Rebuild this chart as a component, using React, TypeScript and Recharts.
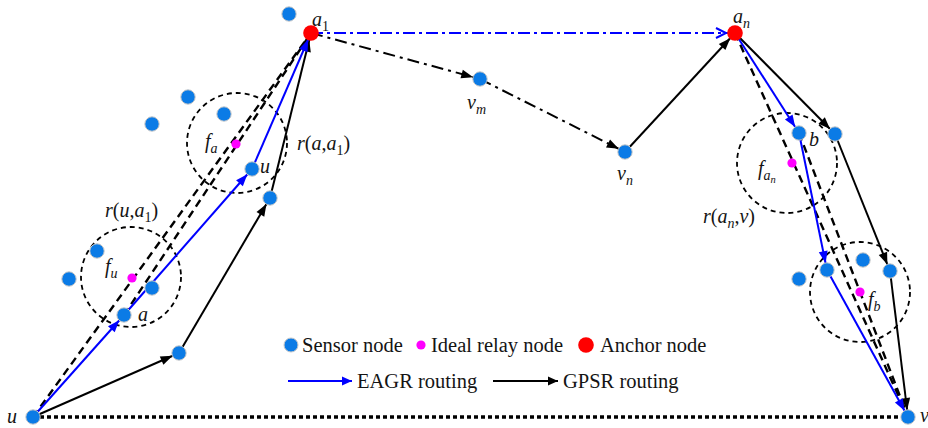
import React from 'react';
import { ScatterChart, Scatter, XAxis, YAxis, ReferenceDot, Legend } from 'recharts';

const W = 928;
const H = 428;

const sensorNodes = [
  { id: 'u', x: 33, y: 417 },
  { id: 'v', x: 908, y: 417 },
  { id: 'vm', x: 480, y: 79 },
  { id: 'vn', x: 625, y: 152 },
  { id: 's1', x: 289, y: 14 },
  { id: 's2', x: 188, y: 97 },
  { id: 's3', x: 224, y: 114 },
  { id: 's4', x: 152, y: 124 },
  { id: 'u2', x: 252, y: 169 },
  { id: 'g1', x: 270, y: 198 },
  { id: 's5', x: 97, y: 251 },
  { id: 's6', x: 69, y: 279 },
  { id: 's7', x: 152, y: 288 },
  { id: 'a', x: 124, y: 315 },
  { id: 'g0', x: 179, y: 353 },
  { id: 'b', x: 799, y: 133 },
  { id: 'g2', x: 835, y: 134 },
  { id: 'c', x: 827, y: 270 },
  { id: 's8', x: 863, y: 260 },
  { id: 'g3', x: 890, y: 271 },
  { id: 's9', x: 799, y: 279 },
];
const relayNodes = [
  { id: 'fa', x: 236, y: 144 },
  { id: 'fu', x: 132, y: 278 },
  { id: 'fan', x: 792, y: 163 },
  { id: 'fb', x: 860, y: 292 },
];
const anchorNodes = [
  { id: 'a1', x: 311, y: 33 },
  { id: 'an', x: 735, y: 33 },
];
const rangeCircles = [
  { x: 237, y: 143 },
  { x: 131, y: 277 },
  { x: 787, y: 163 },
  { x: 860, y: 292 },
];
const eagrEdges = [['u', 'a'], ['a', 'u2'], ['u2', 'a1'], ['an', 'b'], ['b', 'c'], ['c', 'v']];
const eagrAnchorEdges = [['a1', 'an']];
const gpsrEdges = [['u', 'g0'], ['g0', 'g1'], ['g1', 'a1'], ['vn', 'an'], ['an', 'g2'], ['g2', 'g3'], ['g3', 'v']];
const gpsrHoleEdges = [['a1', 'vm'], ['vm', 'vn']];
const distanceEdges = [['u', 'a1'], ['a', 'a1'], ['an', 'v'], ['b', 'v']];
const baselineEdges = [['u', 'v']];
const labels = [
  { x: 7, y: 423, t: 'u' },
  { x: 920, y: 422, t: 'v' },
  { x: 312, y: 26, t: 'a_1' },
  { x: 733, y: 23, t: 'a_n' },
  { x: 467, y: 109, t: 'v_m' },
  { x: 617, y: 180, t: 'v_n' },
  { x: 205, y: 148, t: 'f_a' },
  { x: 260, y: 173, t: 'u' },
  { x: 297, y: 150, t: 'r(a,a_1)' },
  { x: 105, y: 217, t: 'r(u,a_1)' },
  { x: 105, y: 273, t: 'f_u' },
  { x: 138, y: 321, t: 'a' },
  { x: 809, y: 146, t: 'b' },
  { x: 758, y: 175, t: 'f_{a_n}' },
  { x: 703, y: 223, t: 'r(a_n,v)' },
  { x: 868, y: 306, t: 'f_b' },
];
const legendNodes = ['Sensor node', 'Ideal relay node', 'Anchor node'];
const legendRoutes = ['EAGR routing', 'GPSR routing'];

const FONT = "'Liberation Serif', 'Times New Roman', 'DejaVu Serif', serif";
const SENSOR = '#0B7BE6';
const RELAY = '#FF00FF';
const ANCHOR = '#FF0000';
const BLUE = '#0000FF';
const INK = '#141414';

const allNodes = [...sensorNodes, ...relayNodes, ...anchorNodes];
const pos: Record<string, { x: number; y: number }> = Object.fromEntries(allNodes.map((n) => [n.id, n]));
const edgeData = (e: string[]) => e.map((id) => ({ x: pos[id].x, y: pos[id].y }));

function parseRich(s: string) {
  const segs: { t: string; lvl: number }[] = [];
  const walk = (str: string, lvl: number) => {
    let i = 0;
    while (i < str.length) {
      const ch = str[i];
      if (ch === '_') {
        if (str[i + 1] === '{') {
          let depth = 1;
          let j = i + 2;
          while (j < str.length && depth > 0) {
            if (str[j] === '{') depth++;
            else if (str[j] === '}') depth--;
            j++;
          }
          walk(str.slice(i + 2, j - 1), lvl + 1);
          i = j;
        } else {
          segs.push({ t: str[i + 1], lvl: lvl + 1 });
          i += 2;
        }
      } else {
        segs.push({ t: ch, lvl });
        i++;
      }
    }
  };
  walk(s, 0);
  return segs;
}

const sizes = [20, 14, 10.5];
const offs = [0, 5, 8];
function rich(s: string) {
  let prev = 0;
  return parseRich(s).map((sg, k) => {
    const dy = offs[sg.lvl] - offs[prev];
    prev = sg.lvl;
    const italic = /[a-z]/i.test(sg.t);
    return (
      <tspan key={k} dy={dy} style={{ fontSize: sizes[sg.lvl], fontStyle: italic ? 'italic' : 'normal', fontFamily: FONT }}>
        {sg.t}
      </tspan>
    );
  });
}

const Empty = () => <g />;
const SensorShape = (p: any) => <circle cx={p.cx} cy={p.cy} r={7.2} fill={SENSOR} stroke="#C8C8C8" strokeWidth={1} />;
const RelayShape = (p: any) => <circle cx={p.cx} cy={p.cy} r={4.6} fill={RELAY} />;
const AnchorShape = (p: any) => <circle cx={p.cx} cy={p.cy} r={7.8} fill={ANCHOR} />;
const LabelShape = (p: any) => (
  <text x={p.cx} y={p.cy} fill={INK} style={{ fontFamily: FONT }}>
    {rich(p.payload.t)}
  </text>
);

const Markers = () => (
  <svg width={0} height={0} style={{ position: 'absolute' }}>
    <defs>
      <marker id="arrBlue" viewBox="0 0 12 9" refX={19} refY={4.5} markerWidth={12} markerHeight={9} markerUnits="userSpaceOnUse" orient="auto" overflow="visible">
        <path d="M0,0 L12,4.5 L0,9 Z" fill={BLUE} />
      </marker>
      <marker id="arrBlack" viewBox="0 0 12 9" refX={19} refY={4.5} markerWidth={12} markerHeight={9} markerUnits="userSpaceOnUse" orient="auto" overflow="visible">
        <path d="M0,0 L12,4.5 L0,9 Z" fill="#000" />
      </marker>
      <marker id="arrOpenBlue" viewBox="0 0 12 12" refX={20} refY={6} markerWidth={12} markerHeight={12} markerUnits="userSpaceOnUse" orient="auto" overflow="visible">
        <path d="M1,1 L11,6 L1,11" fill="none" stroke={BLUE} strokeWidth={2} />
      </marker>
      <marker id="legBlue" viewBox="0 0 10 9" refX={10} refY={4.5} markerWidth={10} markerHeight={9} markerUnits="userSpaceOnUse" orient="auto" overflow="visible">
        <path d="M0,0 L10,4.5 L0,9 Z" fill={BLUE} />
      </marker>
      <marker id="legBlack" viewBox="0 0 10 9" refX={10} refY={4.5} markerWidth={10} markerHeight={9} markerUnits="userSpaceOnUse" orient="auto" overflow="visible">
        <path d="M0,0 L10,4.5 L0,9 Z" fill="#000" />
      </marker>
    </defs>
  </svg>
);

const legendTextStyle = { fontFamily: FONT, fontSize: 20.5 };

const LegendContent = () => (
  <svg width={440} height={64} style={{ overflow: 'visible' }}>
    <g fill={INK}>
      <circle cx={11} cy={15} r={7} fill={SENSOR} stroke="#C8C8C8" strokeWidth={1} />
      <text x={22} y={22} style={legendTextStyle}>{legendNodes[0]}</text>
      <circle cx={141} cy={15} r={4.6} fill={RELAY} />
      <text x={151} y={22} style={legendTextStyle}>{legendNodes[1]}</text>
      <circle cx={306} cy={15} r={7.8} fill={ANCHOR} />
      <text x={320} y={22} style={legendTextStyle}>{legendNodes[2]}</text>
      <line x1={8} y1={51} x2={72} y2={51} stroke={BLUE} strokeWidth={2} markerEnd="url(#legBlue)" />
      <text x={77} y={58} style={legendTextStyle}>{legendRoutes[0]}</text>
      <line x1={213} y1={51} x2={278} y2={51} stroke="#000" strokeWidth={2} markerEnd="url(#legBlack)" />
      <text x={283} y={58} style={legendTextStyle}>{legendRoutes[1]}</text>
    </g>
  </svg>
);

export default function App() {
  return (
    <div style={{ position: 'absolute', left: 0, top: 0, width: W, height: H, background: '#fff' }}>
      <Markers />
      <ScatterChart width={W} height={H} margin={{ top: 0, right: 0, bottom: 0, left: 0 }}>
        <XAxis type="number" dataKey="x" domain={[0, W]} hide allowDataOverflow />
        <YAxis type="number" dataKey="y" domain={[0, H]} reversed hide allowDataOverflow />
        <Legend
          layout="vertical"
          align="center"
          verticalAlign="middle"
          wrapperStyle={{ position: 'absolute', left: 280, top: 330, width: 440, height: 64 }}
          content={() => <LegendContent />}
        />
        {baselineEdges.map((e, i) => (
          <Scatter key={'bl' + i} data={edgeData(e)} shape={Empty} isAnimationActive={false}
            line={{ stroke: '#000', strokeWidth: 3.5, strokeDasharray: '4 3' }} />
        ))}
        {rangeCircles.map((c, i) => (
          <ReferenceDot key={'rc' + i} x={c.x} y={c.y} r={50} fill="none" stroke="#000"
            strokeWidth={1.8} strokeDasharray="5 4" ifOverflow="visible" />
        ))}
        {distanceEdges.map((e, i) => (
          <Scatter key={'de' + i} data={edgeData(e)} shape={Empty} isAnimationActive={false}
            line={{ stroke: '#000', strokeWidth: 2.4, strokeDasharray: '8 5' }} />
        ))}
        {gpsrHoleEdges.map((e, i) => (
          <Scatter key={'gh' + i} data={edgeData(e)} shape={Empty} isAnimationActive={false}
            line={{ stroke: '#000', strokeWidth: 2, strokeDasharray: '12 5 3 5', markerEnd: 'url(#arrBlack)' }} />
        ))}
        {gpsrEdges.map((e, i) => (
          <Scatter key={'ge' + i} data={edgeData(e)} shape={Empty} isAnimationActive={false}
            line={{ stroke: '#000', strokeWidth: 2, markerEnd: 'url(#arrBlack)' }} />
        ))}
        {eagrAnchorEdges.map((e, i) => (
          <Scatter key={'ea' + i} data={edgeData(e)} shape={Empty} isAnimationActive={false}
            line={{ stroke: BLUE, strokeWidth: 2, strokeDasharray: '12 4 3 4', markerEnd: 'url(#arrOpenBlue)' }} />
        ))}
        {eagrEdges.map((e, i) => (
          <Scatter key={'ee' + i} data={edgeData(e)} shape={Empty} isAnimationActive={false}
            line={{ stroke: BLUE, strokeWidth: 2, markerEnd: 'url(#arrBlue)' }} />
        ))}
        <Scatter data={sensorNodes} shape={SensorShape} isAnimationActive={false} />
        <Scatter data={relayNodes} shape={RelayShape} isAnimationActive={false} />
        <Scatter data={anchorNodes} shape={AnchorShape} isAnimationActive={false} />
        <Scatter data={labels} shape={LabelShape} isAnimationActive={false} />
      </ScatterChart>
    </div>
  );
}
